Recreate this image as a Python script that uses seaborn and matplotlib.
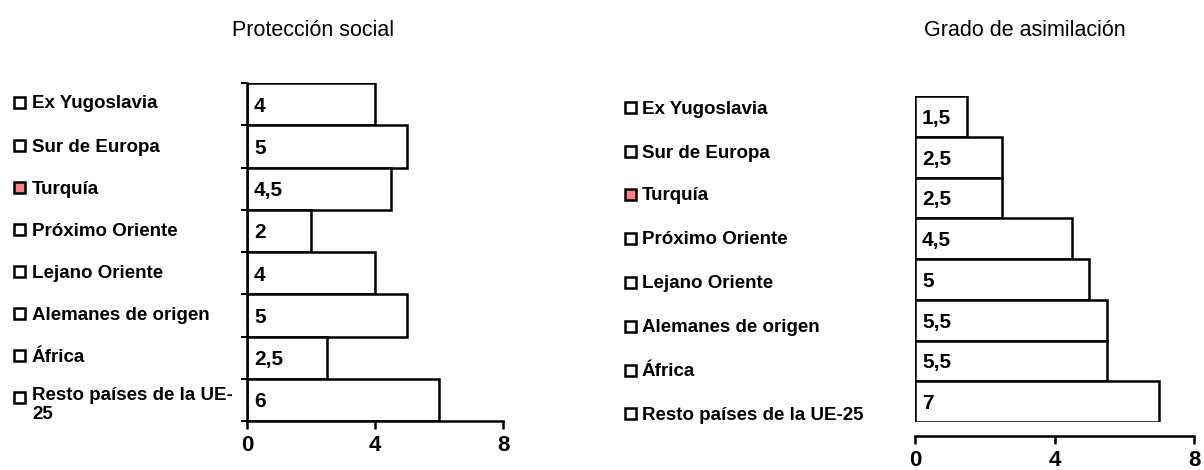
import matplotlib
matplotlib.use('Agg')
import matplotlib.pyplot as plt
from matplotlib.patches import Rectangle
import numpy as np
import seaborn as sns

sns.set_style('white')
plt.rcParams['font.family'] = ['Liberation Sans', 'DejaVu Sans']
plt.rcParams['text.color'] = 'black'
plt.rcParams['xtick.color'] = 'black'
plt.rcParams['ytick.color'] = 'black'
plt.rcParams['axes.edgecolor'] = 'black'

# data
categories = ['Ex Yugoslavia', 'Sur de Europa', 'Turquía', 'Próximo Oriente',
              'Lejano Oriente', 'Alemanes de origen', 'África', 'Resto países de la UE-25']
left_labels = ['Ex Yugoslavia', 'Sur de Europa', 'Turquía', 'Próximo Oriente',
               'Lejano Oriente', 'Alemanes de origen', 'África', 'Resto países de la UE-\n25']
proteccion = [4, 5, 4.5, 2, 4, 5, 2.5, 6]
asimilacion = [1.5, 2.5, 2.5, 4.5, 5, 5.5, 5.5, 7]
highlight = 'Turquía'
x_ticks = [0, 4, 8]

W, H = 1204, 470
fig = plt.figure(figsize=(W / 100, H / 100), dpi=100)


def fmt(v):
    return ('%g' % v).replace('.', ',')


def make_ax(rect_px, values, offset=0):
    x0, y_top, x1, y_bot = rect_px
    ax = fig.add_axes([x0 / W, 1 - y_bot / H, (x1 - x0) / W, (y_bot - y_top) / H])
    sns.barplot(x=values, y=categories, orient='h', color='white', edgecolor='black',
                linewidth=1.8, width=1.0, ax=ax, saturation=1)
    for s in ['top', 'right']:
        ax.spines[s].set_visible(False)
    if offset:
        ax.spines['bottom'].set_position(('outward', offset))
    ax.set_xlim(0, 8)
    ax.set_ylim(7.5, -0.5)
    ax.set_xticks(x_ticks)
    ax.set_xticklabels([str(t) for t in x_ticks], fontsize=16, fontweight='bold')
    ax.set_xlabel('')
    ax.set_ylabel('')
    ax.tick_params(axis='x', direction='out', length=6, width=1.8, pad=4, bottom=True)
    ax.spines['bottom'].set_linewidth(1.8)
    ax.spines['left'].set_linewidth(1.8)
    for i, v in enumerate(values):
        ax.annotate(fmt(v), (0, i), xytext=(5, 0), textcoords='offset points',
                    ha='left', va='center_baseline', fontsize=15, fontweight='bold')
    return ax


def square(x_px, y_px, color):
    fig.patches.append(Rectangle((x_px / W, 1 - (y_px + 6) / H), 11 / W, 11 / H,
                                 transform=fig.transFigure, facecolor=color,
                                 edgecolor='black', linewidth=1.8))


# left chart: Protección social
ax1 = make_ax((247, 83, 503, 421), proteccion)
ax1.set_yticks(np.arange(-0.5, 8, 1))
ax1.set_yticklabels([])
ax1.tick_params(axis='y', direction='out', length=4, width=1.5, left=True)
fig.text(313 / W, 1 - 31 / H, 'Protección social', ha='center', va='center', fontsize=15.5)

label_y_left = [102, 145, 187, 229, 271, 313, 355, 397]
for name, lab, y in zip(categories, left_labels, label_y_left):
    color = '#FF8080' if name == highlight else 'white'
    square(14, y, color)
    if '\n' in lab:
        fig.text(32 / W, 1 - (y - 10) / H, lab, ha='left', va='top',
                 fontsize=13.5, fontweight='bold', linespacing=1.15)
    else:
        fig.text(32 / W, 1 - y / H, lab, ha='left', va='center_baseline',
                 fontsize=13.5, fontweight='bold')

# right chart: Grado de asimilación
ax2 = make_ax((915, 96, 1194, 422), asimilacion, offset=10)
ax2.spines['left'].set_visible(False)
ax2.set_yticks([])
fig.text(1025 / W, 1 - 31 / H, 'Grado de asimilación', ha='center', va='center', fontsize=15.5)

label_y_right = [107, 151, 194, 238, 282, 326, 370, 413]
for name, y in zip(categories, label_y_right):
    color = '#FF8080' if name == highlight else 'white'
    square(625, y, color)
    fig.text(642 / W, 1 - y / H, name, ha='left', va='center_baseline',
             fontsize=13.5, fontweight='bold')

fig.savefig('out.png', dpi=100)
